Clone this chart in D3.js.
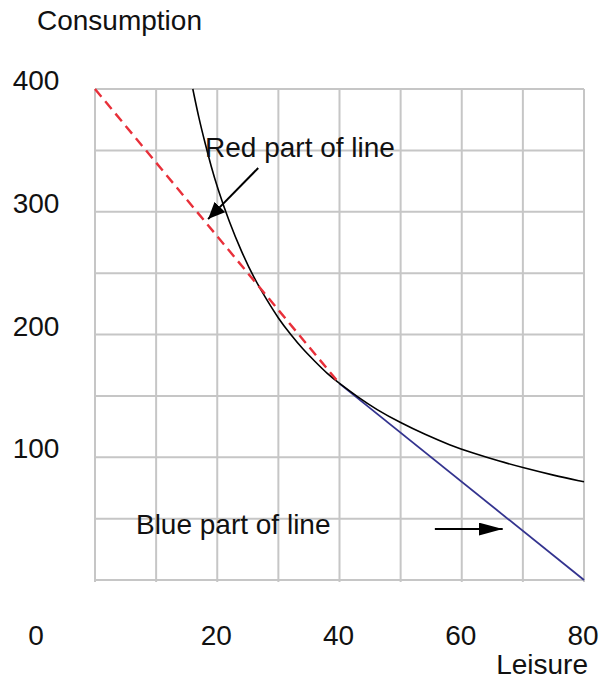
<!DOCTYPE html>
<html>
<head>
<meta charset="utf-8">
<script src="https://cdn.jsdelivr.net/npm/d3@7"></script>
<style>
  html, body { margin: 0; padding: 0; background: #fff; }
  svg text { font-family: "Liberation Sans", Arial, sans-serif; fill: #111; }
</style>
</head>
<body>
<svg id="chart" width="600" height="683"></svg>
<script>
// ---- Data ----
const xTickValues = [20, 40, 60, 80];
const yTickValues = [100, 200, 300, 400];
const originLabel = "0";
const gridX = [0, 10, 20, 30, 40, 50, 60, 70, 80];
const gridY = [0, 50, 100, 150, 200, 250, 300, 350, 400];

// Budget line, red (dashed) part and blue part
const redLeisure = [0, 40];
const redConsumption = [400, 160];
const blueLeisure = [40, 80];
const blueConsumption = [160, 0];

// Indifference curve
const curveLeisure = [16, 17, 18, 19, 20, 22, 24, 26, 28, 30, 32, 34, 36, 38, 40, 43, 46, 50, 54, 58, 62, 66, 70, 75, 80];
const curveConsumption = [400, 376, 356, 337, 320, 291, 267, 246, 229, 213, 200, 188, 178, 168, 160, 149, 139, 128, 118.5, 110, 103, 97, 91.5, 85.3, 80];

// Annotations
const annotationTexts = ["Red part of line", "Blue part of line"];
const annotationTextL = [18.0, 6.7];
const annotationTextC = [344.6, 37.5];
const arrowFromL = [26.7, 55.6];
const arrowFromC = [335.6, 41.5];
const arrowToL = [18.5, 66.7];
const arrowToC = [294, 41.5];

const xTitle = "Leisure";
const yTitle = "Consumption";

// ---- Layout ----
(function () {
const svg = d3.select("#chart");
const mLeft = 95, mRight = 584, mTop = 89, mBottom = 580;
const x = d3.scaleLinear().domain([0, 80]).range([mLeft, mRight]);
const y = d3.scaleLinear().domain([0, 400]).range([mBottom, mTop]);

const gridColor = "#c6c6c6";

// Grid
svg.append("g").selectAll("line").data(gridX).join("line")
  .attr("x1", d => x(d)).attr("x2", d => x(d))
  .attr("y1", y(400)).attr("y2", y(0) + 2)
  .attr("stroke", gridColor).attr("stroke-width", 2);
svg.append("g").selectAll("line").data(gridY).join("line")
  .attr("x1", x(0)).attr("x2", x(80))
  .attr("y1", d => y(d)).attr("y2", d => y(d))
  .attr("stroke", gridColor).attr("stroke-width", 2);

// Tick labels
const fs = 28;
svg.append("g").selectAll("text").data(yTickValues).join("text")
  .attr("x", 36).attr("y", d => y(d) + 1)
  .attr("text-anchor", "middle").attr("font-size", fs)
  .text(d => d);
svg.append("g").selectAll("text").data(xTickValues).join("text")
  .attr("x", d => x(d) - 1).attr("y", 645)
  .attr("text-anchor", "middle").attr("font-size", fs)
  .text(d => d);
svg.append("text").attr("x", 36).attr("y", 645)
  .attr("text-anchor", "middle").attr("font-size", fs).text(originLabel);

// Axis titles
svg.append("text").attr("x", 37).attr("y", 30).attr("font-size", fs).text(yTitle);
svg.append("text").attr("x", 588).attr("y", 674).attr("text-anchor", "end").attr("font-size", fs).text(xTitle);

const line = d3.line().x(d => x(d[0])).y(d => y(d[1]));

// Blue part
svg.append("path")
  .datum(blueLeisure.map((l, i) => [l, blueConsumption[i]]))
  .attr("d", line).attr("fill", "none")
  .attr("stroke", "#33338f").attr("stroke-width", 1.8);

// Indifference curve
svg.append("path")
  .datum(curveLeisure.map((l, i) => [l, curveConsumption[i]]))
  .attr("d", d3.line().x(d => x(d[0])).y(d => y(d[1])).curve(d3.curveBasis))
  .attr("fill", "none")
  .attr("stroke", "#000").attr("stroke-width", 1.6);

// Red dashed part
svg.append("path")
  .datum(redLeisure.map((l, i) => [l, redConsumption[i]]))
  .attr("d", line)
  .attr("fill", "none")
  .attr("stroke", "#e8303a").attr("stroke-width", 2.4)
  .attr("stroke-dasharray", "10,6");

// Annotation texts
svg.append("g").selectAll("text").data(annotationTexts).join("text")
  .attr("x", (d, i) => x(annotationTextL[i]))
  .attr("y", (d, i) => y(annotationTextC[i]))
  .attr("font-size", fs).text(d => d);

// Arrows
const defs = svg.append("defs");
const headSizes = [[17, 15], [24, 13]];
headSizes.forEach((s, i) => {
  defs.append("marker").attr("id", "ah" + i)
    .attr("viewBox", "0 0 10 10").attr("refX", 10).attr("refY", 5)
    .attr("markerUnits", "userSpaceOnUse")
    .attr("markerWidth", s[0]).attr("markerHeight", s[1])
    .attr("orient", "auto").attr("preserveAspectRatio", "none")
    .append("path").attr("d", "M0,0 L10,5 L0,10 Z").attr("fill", "#000");
});

svg.append("g").selectAll("line").data(arrowFromL).join("line")
  .attr("x1", (d, i) => x(arrowFromL[i]))
  .attr("y1", (d, i) => y(arrowFromC[i]))
  .attr("x2", (d, i) => x(arrowToL[i]))
  .attr("y2", (d, i) => y(arrowToC[i]))
  .attr("stroke", "#000").attr("stroke-width", 2)
  .attr("marker-end", (d, i) => "url(#ah" + i + ")");
})();
</script>
</body>
</html>
